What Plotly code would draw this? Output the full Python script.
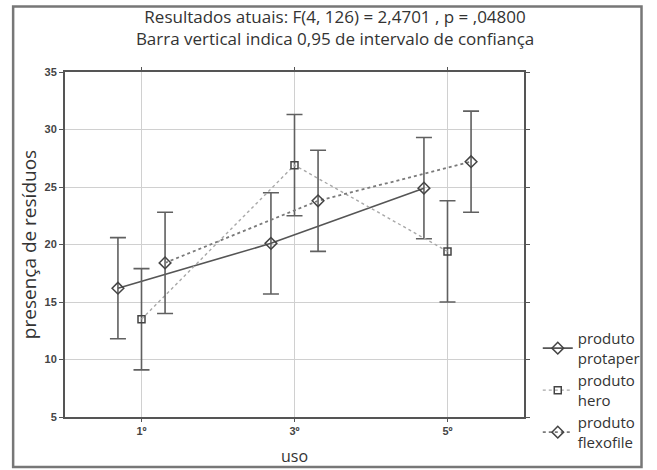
import plotly.graph_objects as go

categories = ["1º", "3º", "5º"]
series_names = ["produto<br>protaper", "produto<br>hero", "produto<br>flexofile"]
protaper_mean = [16.2, 20.1, 24.9]
hero_mean = [13.5, 26.9, 19.4]
flexofile_mean = [18.4, 23.8, 27.2]
ci_half = [4.4, 4.4, 4.4]
offsets = [-0.154, 0.0, 0.154]

means = [protaper_mean, hero_mean, flexofile_mean]
styles = [
    dict(color="#555555", dash="solid", width=1.6, symbol="diamond-open", msize=9),
    dict(color="#a8a8a8", dash="dot", width=1.4, symbol="square-open", msize=7),
    dict(color="#7a7a7a", dash="dot", width=1.8, symbol="diamond-open", msize=9),
]

fig = go.Figure()
for name, m, off, st in zip(series_names, means, offsets, styles):
    xs = [i + off for i in range(len(categories))]
    fig.add_trace(go.Scatter(
        x=xs, y=m, name=name, mode="lines+markers",
        line=dict(color=st["color"], dash=st["dash"], width=st["width"]),
        marker=dict(symbol=st["symbol"], size=st["msize"], color="#444444",
                    line=dict(color="#444444", width=1.5)),
        error_y=dict(type="data", array=ci_half, visible=True,
                     color="#606060", thickness=1.6, width=8),
    ))

font_h = "Open Sans"
fig.update_layout(
    width=657, height=470,
    paper_bgcolor="white", plot_bgcolor="white",
    margin=dict(l=65, r=124, t=72, b=53),
    title=dict(
        text="Resultados atuais: F(4, 126) = 2,4701 , p = ,04800<br>Barra vertical indica 0,95 de intervalo de confiança",
        x=0.51, xanchor="center", y=0.952, yanchor="top",
        font=dict(family=font_h, size=17, color="#333333"),
    ),
    xaxis=dict(
        range=[-0.5, 2.5], tickvals=[0, 1, 2], ticktext=categories,
        showgrid=True, gridcolor="#d0d0d0", gridwidth=1,
        showline=True, linecolor="#555555", linewidth=2, mirror="ticks",
        ticks="outside", ticklen=3, tickcolor="#555555",
        zeroline=False, automargin=False,
        tickfont=dict(family="Liberation Sans", size=11, color="#444444", weight="bold"),
        title=dict(text="uso", font=dict(family=font_h, size=16, color="#333333")),
    ),
    yaxis=dict(
        range=[5, 35], tickvals=[5, 10, 15, 20, 25, 30, 35],
        showgrid=True, gridcolor="#d0d0d0", gridwidth=1,
        showline=True, linecolor="#555555", linewidth=2, mirror="ticks",
        ticks="outside", ticklen=4, tickcolor="#555555",
        zeroline=False, automargin=True,
        tickfont=dict(family="Liberation Sans", size=11, color="#444444", weight="bold"),
        title=dict(text="presença de resíduos", font=dict(family=font_h, size=19, color="#333333"), standoff=3),
    ),
    legend=dict(
        x=1.03, y=0.275, xanchor="left", yanchor="top",
        font=dict(family=font_h, size=15, color="#333333"),
        bgcolor="rgba(0,0,0,0)", tracegroupgap=0, itemwidth=30,
    ),
    showlegend=True,
)

fig.add_shape(type="rect", xref="paper", yref="paper",
              x0=-0.113, x1=1.256, y0=-0.145, y1=1.19,
              line=dict(color="#777777", width=2.5), fillcolor="rgba(0,0,0,0)", layer="below")

fig.write_html("out.html", config={"displayModeBar": False},
               post_script="document.body.style.margin='0';document.body.style.padding='0';")
